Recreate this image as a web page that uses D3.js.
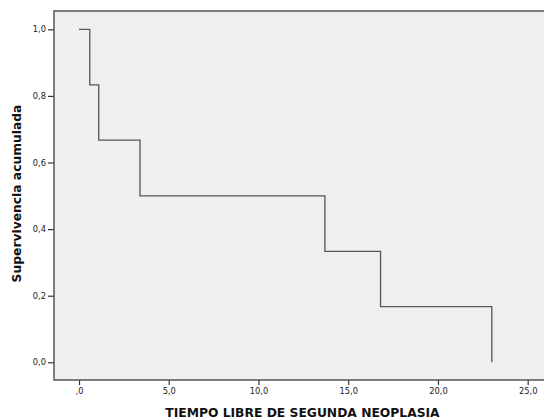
<!DOCTYPE html>
<html>
<head>
<meta charset="utf-8">
<script src="https://cdn.jsdelivr.net/npm/d3@7"></script>
<style>
  body { margin: 0; background: #fff; }
  svg { display: block; }
  .tick text { font-family: "DejaVu Sans", sans-serif; font-size: 8.3px; fill: #222; }
  .ttl { font-family: "DejaVu Sans", sans-serif; font-weight: bold; fill: #111; }
</style>
</head>
<body>
<svg id="chart" width="544" height="419"></svg>
<script>
// survival steps
var times = [0, 0.6, 1.1, 3.4, 13.7, 16.8, 23.0];
var survival = [1, 0.833, 0.667, 0.5, 0.333, 0.167, 0];

var xTicks = [0, 5, 10, 15, 20, 25];
var xTickLabels = [",0", "5,0", "10,0", "15,0", "20,0", "25,0"];
var yTicks = [0, 0.2, 0.4, 0.6, 0.8, 1.0];
var yTickLabels = ["0,0", "0,2", "0,4", "0,6", "0,8", "1,0"];

var xTitle = "TIEMPO LIBRE DE SEGUNDA NEOPLASIA";
var yTitle = "Supervivencia acumulada";

const svg = d3.select("#chart");
const frame = { left: 54, top: 11, bottom: 380, right: 560 };

var x = d3.scaleLinear().domain([0, 25]).range([79, 527.7]);
var y = d3.scaleLinear().domain([0, 1]).range([362.3, 29.3]);

// plot background
svg.append("rect")
    .attr("x", frame.left).attr("y", frame.top)
    .attr("width", frame.right - frame.left)
    .attr("height", frame.bottom - frame.top)
    .attr("fill", "#efefef");

// axes
var yAxis = svg.append("g")
    .attr("transform", `translate(${frame.left},0)`)
    .call(d3.axisLeft(y).tickValues(yTicks).tickSize(6).tickPadding(2)
        .tickFormat((d, i) => yTickLabels[i]));
var xAxis = svg.append("g")
    .attr("transform", `translate(0,${frame.bottom})`)
    .call(d3.axisBottom(x).tickValues(xTicks).tickSize(5).tickPadding(3)
        .tickFormat((d, i) => xTickLabels[i]));
[xAxis, yAxis].forEach(a => {
    a.select(".domain").remove();
    a.selectAll(".tick line").attr("stroke", "#333").attr("stroke-width", 1.2);
});

// frame lines (left, bottom, top)
svg.append("path")
    .attr("d", `M${frame.right},${frame.top}H${frame.left}V${frame.bottom}H${frame.right}`)
    .attr("fill", "none")
    .attr("stroke", "#555")
    .attr("stroke-width", 1.5);

// the KM curve
var pts = times.map((t, i) => [t, survival[i]]);
var line = d3.line()
    .x(d => x(d[0]))
    .y(d => y(d[1]))
    .curve(d3.curveStepAfter);
svg.append("path")
    .datum(pts)
    .attr("d", line)
    .attr("fill", "none")
    .attr("stroke", "#555")
    .attr("stroke-width", 1.3);

// titles
svg.append("text")
    .attr("class", "ttl")
    .attr("x", 302.5).attr("y", 416.5)
    .attr("text-anchor", "middle")
    .style("font-size", "12.3px")
    .text(xTitle);
svg.append("text")
    .attr("class", "ttl")
    .attr("transform", "translate(21,193.5) rotate(-90)")
    .attr("text-anchor", "middle")
    .style("font-size", "12.3px")
    .text(yTitle);
</script>
</body>
</html>
